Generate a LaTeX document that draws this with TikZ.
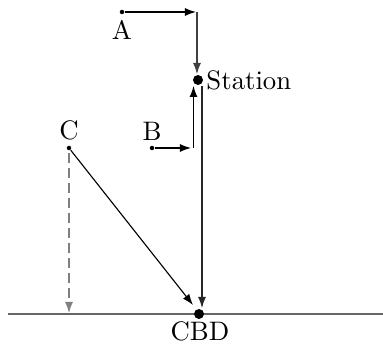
\documentclass[tikz,border=0pt]{standalone}
\usetikzlibrary{arrows.meta}
\begin{document}
\begin{tikzpicture}[x=0.4pt,y=-0.4pt,
  arr/.style={-{Latex[length=4.4pt,width=3.2pt]}, line width=0.45pt},
  smalldot/.style={circle,fill=black,inner sep=0pt,minimum size=1.8pt},
  bigdot/.style={circle,fill=black,inner sep=0pt,minimum size=4pt},
  lbl/.style={inner sep=0pt,font=\fontsize{10.7}{13}\selectfont}]
\useasboundingbox (0,0) rectangle (383,344);
% ground
\coordinate (gl) at (8,314);
\coordinate (gr) at (383,314);
\draw[gray!80!black, line width=0.6pt] (gl) -- (gr);
% nodes
\node[smalldot] (A) at (122,12) {};
\node[lbl] (Al) at (122,30) {A};
\node[smalldot] (B) at (152,148) {};
\node[lbl] (Bl) at (152,131) {B};
\node[smalldot] (C) at (69,148) {};
\node[lbl] (Cl) at (69,130) {C};
\node[bigdot] (S) at (198,80) {};
\node[lbl, anchor=west] (Sl) at (206,80) {Station};
\node[bigdot] (D) at (199,314) {};
\node[lbl] (Dl) at (200,331) {CBD};
% helper coordinates
\coordinate (Ae) at (196,12);
\coordinate (At) at (197,12);
\coordinate (Ab) at (197,74);
\coordinate (Be) at (191,148);
\coordinate (Bt) at (193.5,148);
\coordinate (Bb) at (193.5,86);
\coordinate (St) at (202,86);
\coordinate (Sb) at (202,308);
\coordinate (Cd) at (69,313);
\coordinate (Cx) at (69,153);
\coordinate (Ce) at (193,305);
% connectors
\draw[arr] (A) -- (Ae);
\draw[arr, black!75] (At) -- (Ab);
\draw[arr] (B) -- (Be);
\draw[arr] (Bt) -- (Bb);
\draw[arr, black!85] (St) -- (Sb);
\draw[arr, gray, dashed, dash pattern=on 4pt off 2pt] (Cx) -- (Cd);
\draw[arr] (C) -- (Ce);
\end{tikzpicture}
\end{document}
